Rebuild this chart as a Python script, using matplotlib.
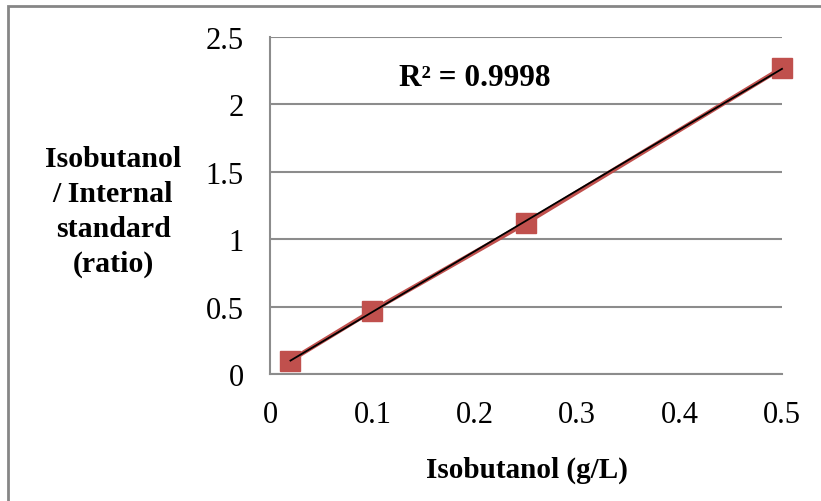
import numpy as np
import matplotlib.pyplot as plt
from matplotlib.patches import Rectangle

# calibration points
conc = [0.02, 0.1, 0.25, 0.5]          # isobutanol, g/L
ratio = [0.1, 0.47, 1.12, 2.27]        # isobutanol / internal standard
r2_text = "R\u00b2 = 0.9998"

x_ticks = [0, 0.1, 0.2, 0.3, 0.4, 0.5]
y_ticks = [0, 0.5, 1, 1.5, 2, 2.5]

plt.rcParams['font.family'] = ['Liberation Serif', 'DejaVu Serif']

fig = plt.figure(figsize=(8.21, 5.02), dpi=100)
ax = fig.add_axes([270 / 821, 1 - 375 / 502, 512 / 821, 337 / 502])

# outer chart frame (only left and top edges fall inside the image)
fig.patches.append(Rectangle((8 / 821, -0.1), 1.2, 1 - 7 / 502 + 0.1,
                             transform=fig.transFigure, fill=False,
                             edgecolor='#868686', linewidth=2))

red = '#C0504D'
ax.plot(conc, ratio, color=red, linewidth=3.2, marker='s', markersize=15,
        markerfacecolor=red, markeredgecolor=red, zorder=3, clip_on=False)

# linear trendline
slope, icpt = np.polyfit(conc, ratio, 1)
tx = np.array([min(conc), max(conc)])
ax.plot(tx, slope * tx + icpt, color='black', linewidth=1.3, zorder=4,
        clip_on=False)

ax.set_xlim(0, 0.5)
ax.set_ylim(0, 2.5)
ax.set_xticks(x_ticks)
ax.set_xticklabels(['0', '0.1', '0.2', '0.3', '0.4', '0.5'])
ax.set_yticks(y_ticks)
ax.set_yticklabels(['0', '0.5', '1', '1.5', '2', '2.5'])
ax.tick_params(length=0, labelsize=22, colors='black')
ax.tick_params(axis='x', pad=19)
ax.tick_params(axis='y', pad=19)

ax.grid(axis='y', color='#8c8c8c', linewidth=1.5)
ax.set_axisbelow(True)
for side in ['top', 'right']:
    ax.spines[side].set_visible(False)
for side in ['left', 'bottom']:
    ax.spines[side].set_color('#8c8c8c')
    ax.spines[side].set_linewidth(1.5)

ax.text(0.2, 2.2, r2_text, fontsize=22.5, fontweight='bold',
        ha='center', va='center')

fig.text(113 / 821, 1 - 212 / 502, "Isobutanol\n/ Internal\nstandard\n(ratio)",
         fontsize=21.5, fontweight='bold', ha='center', va='center',
         linespacing=1.38)
fig.text(527 / 821, 1 - 470 / 502, "Isobutanol (g/L)", fontsize=21,
         fontweight='bold', ha='center', va='center')

fig.savefig('out.png', dpi=100)
